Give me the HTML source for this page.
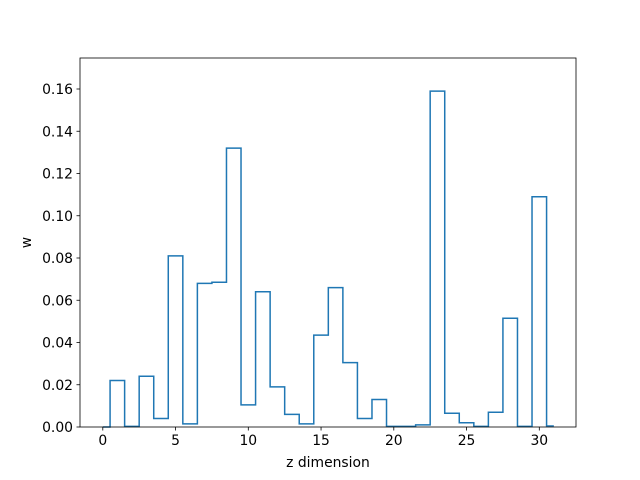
<!DOCTYPE html>
<html><head><meta charset="utf-8"><style>
body{margin:0;background:#fff;}
svg{display:block;font-family:"DejaVu Sans","Liberation Sans",sans-serif;}
</style></head><body>
<svg id="chart" width="640" height="480">
<rect width="640" height="480" fill="#fff"/>
<g id="plot"></g>
</svg>
<script>
const values=[0,0.022,0.0003,0.024,0.004,0.081,0.0015,0.068,0.0685,0.132,0.0105,0.064,0.019,0.006,0.0015,0.0435,0.066,0.0305,0.004,0.013,0.0003,0.0003,0.001,0.159,0.0065,0.002,0.0003,0.007,0.0515,0.0003,0.109,0.0005];
const xTicks=[0,5,10,15,20,25,30];
const yTicks=[0,0.02,0.04,0.06,0.08,0.10,0.12,0.14,0.16];
const yTickLabels=["0.00","0.02","0.04","0.06","0.08","0.10","0.12","0.14","0.16"];
const L=80,R=576,T=58,B=427;
const X=v=>102.8+v*14.55;
const Y=v=>427-v*2112.5;
const ns="http://www.w3.org/2000/svg";
const g=document.getElementById('plot');
function mk(t,a,txt){const e=document.createElementNS(ns,t);for(const k in a)e.setAttribute(k,a[k]);if(txt!==undefined)e.textContent=txt;g.appendChild(e);return e;}
let d="M"+X(0)+","+Y(values[0]);
for(let i=0;i<values.length;i++){
  const x0=i===0?0:i-0.5, x1=i===values.length-1?i:i+0.5;
  d+=" L"+X(x0)+","+Y(values[i])+" L"+X(x1)+","+Y(values[i]);
}
const p=mk('path',{d:d,fill:'none',stroke:'#1f77b4','stroke-width':1.5,'stroke-linejoin':'miter'});


const fr=mk('rect',{x:L,y:T,width:R-L,height:B-T,fill:'none',stroke:'#000','stroke-width':0.8});


xTicks.forEach(t=>{
  const ln=mk('line',{x1:X(t),x2:X(t),y1:B,y2:B+3.5,stroke:'#000','stroke-width':0.8});
  
  
  const tx=mk('text',{x:X(t),y:B+18,'font-size':13.9,'text-anchor':'middle'},String(t));
  
  
});
yTicks.forEach((t,i)=>{
  const ln=mk('line',{x1:L-3.5,x2:L,y1:Y(t),y2:Y(t),stroke:'#000','stroke-width':0.8});
  
  
  const tx=mk('text',{x:L-7,y:Y(t)+5,'font-size':13.9,'text-anchor':'end'},yTickLabels[i]);
  
  
});
const xl=mk('text',{x:(L+R)/2,y:467,'font-size':13.9,'text-anchor':'middle'},'z dimension');


const yl=mk('text',{x:31,y:(T+B)/2,'font-size':13.9,'text-anchor':'middle',transform:'rotate(-90 31 '+((T+B)/2)+')'},'w');


</script>
</body></html>
